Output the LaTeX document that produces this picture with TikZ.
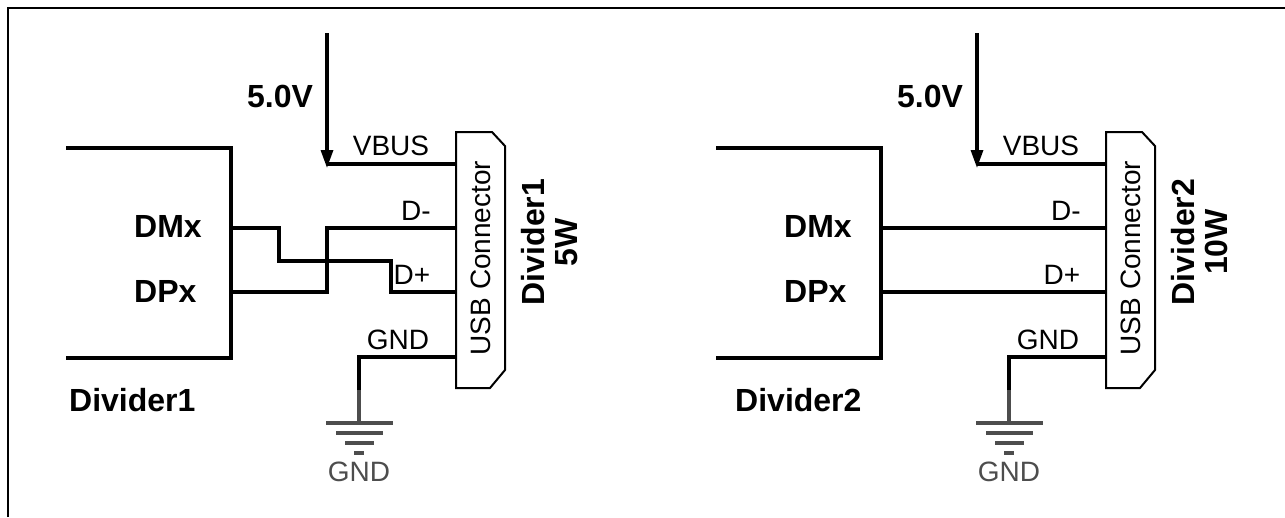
\documentclass[tikz,border=0pt]{standalone}
\usepackage{fontspec}
\setmainfont{Liberation Sans}
\usetikzlibrary{arrows.meta,positioning,calc}
\definecolor{gndgray}{HTML}{4D4D4D}

\begin{document}
\begin{tikzpicture}[x=1pt, y=-1pt,
    wire/.style={line width=3.2pt},
    conbox/.style={line width=2pt, line join=miter},
    bold/.style={inner sep=0pt, font=\fontsize{32}{33}\selectfont\bfseries},
    pinlabel/.style={inner sep=0pt, font=\fontsize{28}{30}\selectfont},
    supply/.style={wire, -{Triangle[length=18pt,width=12pt]}},
    gndbar/.style={line width=4pt, draw=gndgray}]
    \useasboundingbox (0,0) rectangle (1285,517);
    \draw[line width=2.5pt] (8,517) -- (8,8) -- (1285,8);

    % Divider1 side
    \draw[wire] (66,148) -- (231,148) -- (231,358) -- (66,358);
    \node[bold, anchor=west] (dmx1) at (134,226) {DMx};
    \node[bold, anchor=west] (dpx1) at (134,291) {DPx};
    \node[bold, anchor=west] (name1) at (69,400) {Divider1};
    \coordinate (outdm1) at (231,228);
    \coordinate (outdp1) at (231,292);

    % USB connector 1
    \draw[conbox] (456,132) -- (492,132) -- (505,146) -- (505,370) -- (490,388) -- (456,388) -- cycle;
    \node[pinlabel, rotate=90] (usb1) at (481,258) {USB Connector};
    \node[bold, rotate=90, align=center] (rating1) at (550,242) {Divider1\\5W};
    \coordinate (vbus1) at (456,164);
    \coordinate (dm1) at (456,228);
    \coordinate (dp1) at (456,292);
    \coordinate (gnd1) at (456,357);
    \node[pinlabel] (vbustxt1) at (391,146) {VBUS};
    \node[pinlabel] (dmtxt1) at (416,211) {D-};
    \node[pinlabel] (dptxt1) at (412,275) {D+};
    \node[pinlabel] (gndpin1) at (398,340) {GND};

    % 5.0V supply 1
    \coordinate (vtop1) at (327,33);
    \coordinate (vtip1) at (327,168);
    \node[bold] (volt1) at (280,96) {5.0V};
    \draw[supply] (vtop1) -- (vtip1);
    \draw[wire] (vbus1) -- (vbus1 -| vtop1);

    % swapped data lines
    \draw[wire] (outdm1) -| (279,261) -| (391,292) -- (dp1);
    \draw[wire] (outdp1) -| (327,228) -- (dm1);

    % ground 1
    \coordinate (gk1) at (359,390);
    \coordinate (earth1) at (359,423);
    \draw[wire] (gnd1) -| (gk1);
    \draw[wire, draw=gndgray] (gk1) -- (earth1);
    \draw[gndbar] ($(earth1)+(-33,0)$) -- ($(earth1)+(34,0)$);
    \draw[gndbar] ($(earth1)+(-23,10)$) -- ($(earth1)+(24,10)$);
    \draw[gndbar] ($(earth1)+(-14,20)$) -- ($(earth1)+(15,20)$);
    \draw[gndbar] ($(earth1)+(-5,30)$) -- ($(earth1)+(5,30)$);
    \node[pinlabel, text=gndgray] (gndtxt1) at (359,472) {GND};

    % Divider2 side
    \draw[wire] (716,148) -- (881,148) -- (881,358) -- (716,358);
    \node[bold, anchor=west] (dmx2) at (784,226) {DMx};
    \node[bold, anchor=west] (dpx2) at (784,291) {DPx};
    \node[bold, anchor=west] (name2) at (735,400) {Divider2};
    \coordinate (outdm2) at (881,228);
    \coordinate (outdp2) at (881,292);

    % USB connector 2
    \draw[conbox] (1106,132) -- (1142,132) -- (1155,146) -- (1155,370) -- (1140,388) -- (1106,388) -- cycle;
    \node[pinlabel, rotate=90] (usb2) at (1131,258) {USB Connector};
    \node[bold, rotate=90, align=center] (rating2) at (1200,242) {Divider2\\10W};
    \coordinate (vbus2) at (1106,164);
    \coordinate (dm2) at (1106,228);
    \coordinate (dp2) at (1106,292);
    \coordinate (gnd2) at (1106,357);
    \node[pinlabel] (vbustxt2) at (1041,146) {VBUS};
    \node[pinlabel] (dmtxt2) at (1066,211) {D-};
    \node[pinlabel] (dptxt2) at (1062,275) {D+};
    \node[pinlabel] (gndpin2) at (1048,340) {GND};

    % 5.0V supply 2
    \coordinate (vtop2) at (977,33);
    \coordinate (vtip2) at (977,168);
    \node[bold] (volt2) at (930,96) {5.0V};
    \draw[supply] (vtop2) -- (vtip2);
    \draw[wire] (vbus2) -- (vbus2 -| vtop2);

    % straight data lines
    \draw[wire] (outdm2) -- (dm2);
    \draw[wire] (outdp2) -- (dp2);

    % ground 2
    \coordinate (gk2) at (1009,390);
    \coordinate (earth2) at (1009,423);
    \draw[wire] (gnd2) -| (gk2);
    \draw[wire, draw=gndgray] (gk2) -- (earth2);
    \draw[gndbar] ($(earth2)+(-33,0)$) -- ($(earth2)+(34,0)$);
    \draw[gndbar] ($(earth2)+(-23,10)$) -- ($(earth2)+(24,10)$);
    \draw[gndbar] ($(earth2)+(-14,20)$) -- ($(earth2)+(15,20)$);
    \draw[gndbar] ($(earth2)+(-5,30)$) -- ($(earth2)+(5,30)$);
    \node[pinlabel, text=gndgray] (gndtxt2) at (1009,472) {GND};
\end{tikzpicture}
\end{document}
